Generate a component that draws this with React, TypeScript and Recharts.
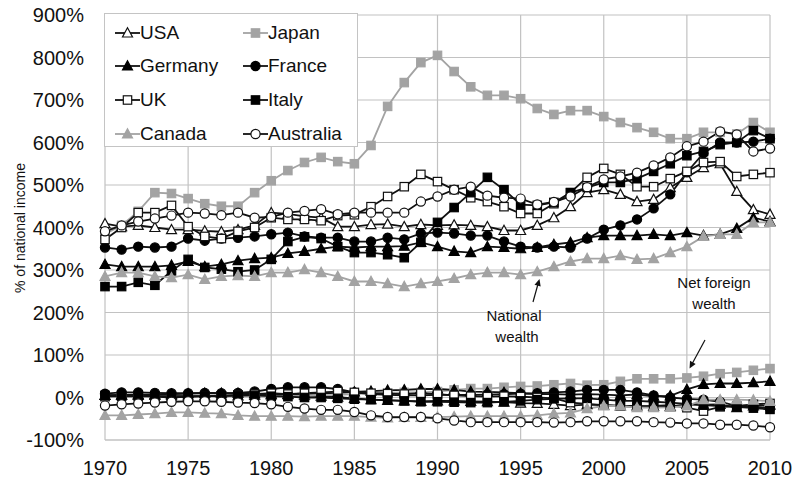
import { LineChart, Line, XAxis, YAxis, CartesianGrid } from 'recharts';

const years = [
  1970, 1971, 1972, 1973, 1974, 1975, 1976, 1977, 1978, 1979, 1980,
  1981, 1982, 1983, 1984, 1985, 1986, 1987, 1988, 1989, 1990,
  1991, 1992, 1993, 1994, 1995, 1996, 1997, 1998, 1999, 2000,
  2001, 2002, 2003, 2004, 2005, 2006, 2007, 2008, 2009, 2010,
];
const xTicks = [1970, 1975, 1980, 1985, 1990, 1995, 2000, 2005, 2010];
const yTicks = [-100, 0, 100, 200, 300, 400, 500, 600, 700, 800, 900];

// national wealth, % of national income
const usaNW = [409, 402, 405, 400, 395, 395, 392, 390, 395, 405, 435, 432, 426, 423, 402, 402, 407, 408, 402, 407, 405, 406, 405, 402, 393, 393, 405, 423, 449, 482, 489, 478, 461, 466, 494, 518, 541, 550, 485, 442, 431];
const japanNW = [385, 405, 438, 482, 480, 468, 456, 450, 450, 482, 510, 534, 553, 565, 555, 550, 593, 685, 741, 788, 805, 767, 731, 711, 711, 703, 680, 666, 675, 675, 661, 647, 635, 624, 609, 609, 624, 624, 620, 647, 624];
const germanyNW = [313, 308, 308, 308, 311, 320, 308, 313, 322, 327, 329, 339, 344, 350, 355, 353, 355, 355, 356, 365, 355, 344, 341, 355, 353, 350, 353, 360, 365, 376, 381, 381, 381, 384, 381, 388, 381, 384, 398, 423, 414];
const franceNW = [353, 348, 355, 353, 355, 374, 369, 374, 376, 379, 384, 388, 379, 376, 376, 367, 367, 376, 372, 386, 388, 386, 381, 381, 367, 355, 353, 355, 353, 374, 395, 405, 419, 445, 478, 530, 575, 600, 600, 602, 609];
const ukNW = [372, 400, 435, 435, 452, 402, 379, 374, 391, 400, 423, 419, 419, 416, 428, 430, 449, 473, 496, 525, 508, 489, 470, 461, 449, 433, 433, 456, 482, 518, 539, 525, 496, 496, 515, 532, 553, 555, 520, 525, 529];
const italyNW = [261, 261, 271, 264, 298, 325, 306, 302, 296, 300, 325, 367, 378, 374, 355, 341, 341, 336, 329, 365, 412, 447, 482, 518, 489, 454, 452, 459, 482, 494, 506, 506, 515, 532, 550, 569, 579, 595, 600, 628, 609];
const canadaNW = [285, 294, 294, 285, 282, 289, 278, 285, 287, 285, 294, 294, 301, 294, 285, 273, 273, 268, 261, 268, 273, 280, 289, 294, 294, 289, 296, 308, 320, 327, 327, 334, 325, 327, 341, 355, 379, 384, 384, 412, 412];
const australiaNW = [391, 405, 414, 421, 428, 435, 433, 429, 435, 423, 425, 435, 439, 443, 431, 435, 435, 435, 435, 461, 473, 489, 496, 475, 470, 468, 454, 460, 473, 495, 513, 520, 529, 546, 565, 591, 602, 626, 619, 579, 586];

// net foreign wealth, % of national income
const usaNFW = [5, 5, 5, 5, 5, 4, 4, 3, 4, 5, 6, 7, 5, 3, 1, -2, -5, -7, -8, -9, -8, -8, -9, -10, -11, -13, -14, -16, -19, -17, -18, -20, -20, -21, -21, -16, -17, -16, -24, -20, -18];
const japanNFW = [3, 4, 5, 3, 2, 2, 3, 4, 5, 3, 2, 3, 4, 5, 6, 8, 10, 11, 12, 12, 14, 18, 21, 21, 24, 26, 27, 30, 33, 29, 30, 38, 44, 44, 44, 46, 50, 56, 59, 64, 68];
const germanyNFW = [5, 6, 7, 7, 8, 9, 10, 10, 10, 9, 8, 8, 9, 10, 11, 13, 15, 17, 18, 20, 20, 18, 14, 13, 12, 10, 8, 8, 7, 8, 7, 5, 7, 3, 4, 19, 31, 33, 33, 35, 38];
const franceNFW = [9, 12, 12, 11, 10, 10, 11, 10, 11, 14, 20, 24, 24, 24, 20, 12, 8, 6, 5, 5, 6, 6, 6, 7, 8, 9, 10, 12, 14, 18, 18, 18, 12, 5, 0, -3, -5, -10, -20, -22, -25];
const ukNFW = [2, 3, 3, 2, 0, 2, 3, 4, 6, 8, 10, 8, 10, 12, 14, 12, 10, 9, 8, 10, 8, 5, 3, 2, 3, 2, 0, -2, -12, -15, -18, -20, -22, -20, -18, -24, -32, -22, -20, -16, -14];
const italyNFW = [5, 5, 5, 3, 2, 2, 3, 4, 5, 5, 3, 2, 0, 0, -2, -4, -5, -6, -8, -10, -10, -11, -12, -12, -10, -8, -5, -3, -2, -2, -5, -8, -8, -10, -12, -15, -18, -20, -22, -25, -28];
const canadaNFW = [-42, -42, -40, -38, -35, -35, -37, -38, -42, -44, -44, -44, -45, -44, -44, -44, -46, -48, -47, -47, -46, -45, -44, -44, -44, -44, -42, -38, -36, -26, -20, -20, -24, -24, -23, -20, -5, -5, -5, -6, -9];
const australiaNFW = [-19, -16, -14, -12, -10, -9, -9, -10, -12, -13, -16, -22, -26, -29, -29, -34, -42, -46, -46, -46, -49, -54, -58, -58, -58, -58, -58, -59, -58, -56, -56, -56, -56, -58, -59, -61, -61, -64, -64, -66, -70];

const GRAY = '#a3a3a3';
const FONT = "'Liberation Sans', Arial, sans-serif";

type Shape = 'triangle' | 'square' | 'circle';
interface Country {
  name: string;
  key: string;
  nw: number[];
  nfw: number[];
  shape: Shape;
  fill: string;
  stroke: string;
}

const countries: Country[] = [
  { name: 'USA', key: 'usa', nw: usaNW, nfw: usaNFW, shape: 'triangle', fill: '#fff', stroke: '#111' },
  { name: 'Japan', key: 'japan', nw: japanNW, nfw: japanNFW, shape: 'square', fill: GRAY, stroke: GRAY },
  { name: 'Germany', key: 'germany', nw: germanyNW, nfw: germanyNFW, shape: 'triangle', fill: '#000', stroke: '#000' },
  { name: 'France', key: 'france', nw: franceNW, nfw: franceNFW, shape: 'circle', fill: '#000', stroke: '#000' },
  { name: 'UK', key: 'uk', nw: ukNW, nfw: ukNFW, shape: 'square', fill: '#fff', stroke: '#111' },
  { name: 'Italy', key: 'italy', nw: italyNW, nfw: italyNFW, shape: 'square', fill: '#000', stroke: '#000' },
  { name: 'Canada', key: 'canada', nw: canadaNW, nfw: canadaNFW, shape: 'triangle', fill: GRAY, stroke: GRAY },
  { name: 'Australia', key: 'australia', nw: australiaNW, nfw: australiaNFW, shape: 'circle', fill: '#fff', stroke: '#111' },
];

const data = years.map((year, i) => {
  const row: Record<string, number> = { year };
  countries.forEach((c) => {
    row[`${c.key}_nw`] = c.nw[i];
    row[`${c.key}_nfw`] = c.nfw[i];
  });
  return row;
});

function Marker({ shape, cx, cy, fill, stroke }: { shape: Shape; cx: number; cy: number; fill: string; stroke: string }) {
  if (shape === 'circle') {
    return <circle cx={cx} cy={cy} r={4.6} fill={fill} stroke={stroke} strokeWidth={1.2} />;
  }
  if (shape === 'square') {
    return <rect x={cx - 4.2} y={cy - 4.2} width={8.4} height={8.4} fill={fill} stroke={stroke} strokeWidth={1.2} />;
  }
  return (
    <polygon
      points={`${cx},${cy - 5.2} ${cx + 5},${cy + 4} ${cx - 5},${cy + 4}`}
      fill={fill}
      stroke={stroke}
      strokeWidth={1.2}
    />
  );
}

function makeDot(c: Country, suffix: string) {
  return (p: any) => {
    if (p.cx == null || p.cy == null) return <g key={`${c.key}${suffix}-${p.index}`} />;
    return <Marker key={`${c.key}${suffix}-${p.index}`} shape={c.shape} cx={p.cx} cy={p.cy} fill={c.fill} stroke={c.stroke} />;
  };
}

function LegendBox() {
  const rows = [19, 52, 86, 120];
  return (
    <div
      style={{
        position: 'absolute', left: 104, top: 13, width: 254, height: 134,
        background: '#fff', border: '1px solid #c4c4c4', boxSizing: 'border-box',
        fontFamily: FONT, fontSize: 19, color: '#111',
      }}
    >
      {countries.map((c, i) => {
        const col = i % 2;
        const row = Math.floor(i / 2);
        const left = col === 0 ? 10 : 138;
        const lineColor = c.stroke === GRAY ? GRAY : '#111';
        return (
          <div key={c.key} style={{ position: 'absolute', left, top: rows[row] - 12, height: 24, display: 'flex', alignItems: 'center' }}>
            <svg width={25} height={24}>
              <line x1={0} y1={12} x2={25} y2={12} stroke={lineColor} strokeWidth={1.8} />
              <Marker shape={c.shape} cx={12.5} cy={12} fill={c.fill} stroke={c.stroke} />
            </svg>
            <span style={{ lineHeight: '24px' }}>{c.name}</span>
          </div>
        );
      })}
    </div>
  );
}

function arrowHead(x1: number, y1: number, x2: number, y2: number) {
  const dx = x2 - x1;
  const dy = y2 - y1;
  const len = Math.sqrt(dx * dx + dy * dy);
  const ux = dx / len;
  const uy = dy / len;
  const bx = x2 - ux * 7;
  const by = y2 - uy * 7;
  return `${x2},${y2} ${bx - uy * 3.2},${by + ux * 3.2} ${bx + uy * 3.2},${by - ux * 3.2}`;
}

function Overlay() {
  const textStyle = { fontFamily: FONT, fontSize: 15, fill: '#111' };
  return (
    <svg width={795} height={481} style={{ position: 'absolute', left: 0, top: 0, pointerEvents: 'none' }}>
      <text
        x={20} y={228} textAnchor="middle" dominantBaseline="central"
        transform="rotate(-90, 20, 228)"
        style={{ fontFamily: FONT, fontSize: 14, fill: '#111' }}
      >
        % of national income
      </text>
      <text x={514} y={321} textAnchor="middle" style={textStyle}>National</text>
      <text x={517} y={342} textAnchor="middle" style={textStyle}>wealth</text>
      <line x1={533} y1={302} x2={538} y2={284} stroke="#111" strokeWidth={1.2} />
      <polygon points={arrowHead(533, 302, 539.5, 279)} fill="#111" />
      <text x={714} y={288} textAnchor="middle" style={textStyle}>Net foreign</text>
      <text x={714} y={309} textAnchor="middle" style={textStyle}>wealth</text>
      <line x1={705} y1={340} x2={692} y2={364} stroke="#111" strokeWidth={1.2} />
      <polygon points={arrowHead(705, 340, 689.5, 368.5)} fill="#111" />
    </svg>
  );
}

export default function App() {
  return (
    <div style={{ position: 'absolute', left: 0, top: 0, width: 795, height: 481, background: '#fff' }}>
      <LineChart width={795} height={481} data={data} margin={{ top: 15, right: 25, left: 20, bottom: 0 }}>
        <CartesianGrid stroke="#c2c2c2" strokeWidth={1.2} verticalValues={xTicks} horizontalValues={yTicks} />
        <XAxis
          dataKey="year"
          type="number"
          domain={[1970, 2010]}
          ticks={xTicks}
          tickLine={false}
          axisLine={{ stroke: '#c2c2c2' }}
          height={41}
          tickMargin={15}
          tick={{ fontSize: 20, fill: '#111', fontFamily: FONT }}
        />
        <YAxis
          type="number"
          domain={[-100, 900]}
          ticks={yTicks}
          tickFormatter={(v: number) => `${v}%`}
          tickLine={false}
          axisLine={false}
          width={85}
          tickMargin={15}
          tick={{ fontSize: 20, fill: '#111', fontFamily: FONT }}
        />
        {countries.map((c) => (
          <Line
            key={`${c.key}_nw`}
            type="linear"
            dataKey={`${c.key}_nw`}
            stroke={c.stroke === GRAY ? GRAY : '#111'}
            strokeWidth={1.8}
            dot={makeDot(c, 'nw')}
            activeDot={false}
            isAnimationActive={false}
          />
        ))}
        {countries.map((c) => (
          <Line
            key={`${c.key}_nfw`}
            type="linear"
            dataKey={`${c.key}_nfw`}
            stroke={c.stroke === GRAY ? GRAY : '#111'}
            strokeWidth={1.8}
            dot={makeDot(c, 'nfw')}
            activeDot={false}
            isAnimationActive={false}
          />
        ))}
      </LineChart>
      <LegendBox />
      <Overlay />
    </div>
  );
}
